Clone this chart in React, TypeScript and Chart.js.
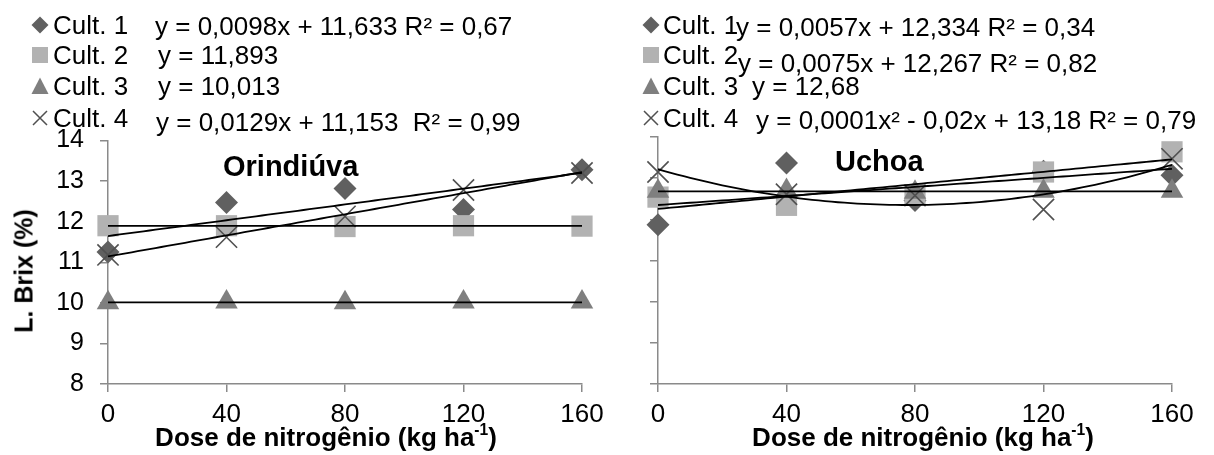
import React, { useEffect, useRef } from 'react';
import { Chart, registerables } from 'chart.js';

Chart.register(...registerables);

// ---------------- DATA ----------------
const doses = [0, 40, 80, 120, 160];
const cultivarLabels = ['Cult. 1', 'Cult. 2', 'Cult. 3', 'Cult. 4'];

const orindiuvaC1 = [11.25, 12.47, 12.82, 12.3, 13.28];
const orindiuvaC2 = [11.9, 11.9, 11.88, 11.9, 11.89];
const orindiuvaC3 = [10.0, 10.02, 10.0, 10.02, 10.02];
const orindiuvaC4 = [11.18, 11.62, 12.13, 12.78, 13.2];
const orindiuvaFitDegree = [1, 0, 0, 1];
const orindiuvaEquations = [
  'y = 0,0098x + 11,633 R² = 0,67',
  'y = 11,893',
  'y = 10,013',
  'y = 0,0129x + 11,153  R² = 0,99',
];

const uchoaC1 = [11.87, 13.37, 12.46, 13.17, 13.07];
const uchoaC2 = [12.54, 12.34, 12.6, 13.15, 13.64];
const uchoaC3 = [12.68, 12.7, 12.66, 12.68, 12.68];
const uchoaC4 = [13.15, 12.61, 12.58, 12.24, 13.47];
const uchoaFitDegree = [1, 1, 0, 2];
const uchoaEquations = [
  'y = 0,0057x + 12,334 R² = 0,34',
  'y = 0,0075x + 12,267 R² = 0,82',
  'y = 12,68',
  'y = 0,0001x² - 0,02x + 13,18 R² = 0,79',
];

const panelTitles = ['Orindiúva', 'Uchoa'];
const yAxisTitle = 'L. Brix (%)';
const xAxisTitleMain = 'Dose de nitrogênio (kg ha';
const xAxisTitleSup = '-1';
const yMin = 8;
const yMax = 14;
const yStep = 1;
const xMin = 0;
const xMax = 160;
const xStep = 40;

// ---------------- STYLE ----------------
const FONT = "'Liberation Sans', Arial, sans-serif";
const AXIS_COLOR = '#8a8a8a';
const markerStyles = ['rectRot', 'rect', 'triangle', 'crossRot'];
const markerRadius = [11.5, 15, 13, 15];
const markerColors = ['#606060', '#b2b2b2', '#7f7f7f', '#505050'];

function polyfit(xs: number[], ys: number[], deg: number): number[] {
  const n = deg + 1;
  const A: number[][] = [];
  for (let r = 0; r < n; r++) {
    const row: number[] = [];
    for (let c = 0; c < n; c++) row.push(xs.reduce((s, x) => s + Math.pow(x, r + c), 0));
    row.push(xs.reduce((s, x, i) => s + ys[i] * Math.pow(x, r), 0));
    A.push(row);
  }
  for (let i = 0; i < n; i++) {
    let p = i;
    for (let k = i + 1; k < n; k++) if (Math.abs(A[k][i]) > Math.abs(A[p][i])) p = k;
    [A[i], A[p]] = [A[p], A[i]];
    for (let k = i + 1; k < n; k++) {
      const f = A[k][i] / A[i][i];
      for (let c = i; c <= n; c++) A[k][c] -= f * A[i][c];
    }
  }
  const coef = new Array(n).fill(0);
  for (let i = n - 1; i >= 0; i--) {
    let s = A[i][n];
    for (let c = i + 1; c < n; c++) s -= A[i][c] * coef[c];
    coef[i] = s / A[i][i];
  }
  return coef;
}

function trendPoints(xs: number[], ys: number[], deg: number) {
  const coef = polyfit(xs, ys, deg);
  const pts: { x: number; y: number }[] = [];
  const lo = Math.min(...xs);
  const hi = Math.max(...xs);
  for (let x = lo; x <= hi + 1e-9; x += 2) {
    let y = 0;
    coef.forEach((c, i) => (y += c * Math.pow(x, i)));
    pts.push({ x, y });
  }
  return pts;
}

type PanelProps = {
  series: number[][];
  degrees: number[];
  canvasLeft: number;
  canvasWidth: number;
  plotTop: number;
  plotBottom: number;
  yWidth: number;
  plotRight: number;
  showYLabels: boolean;
};

const CANVAS_H = 455;

function Panel(props: PanelProps) {
  const ref = useRef<HTMLCanvasElement | null>(null);
  useEffect(() => {
    if (!ref.current) return;
    const datasets: any[] = [];
    props.series.forEach((ys, i) => {
      datasets.push({
        label: 'trend ' + cultivarLabels[i],
        data: trendPoints(doses, ys, props.degrees[i]),
        showLine: true,
        borderColor: '#000000',
        borderWidth: 1.8,
        pointRadius: 0,
        fill: false,
        tension: 0,
        order: 0,
      });
    });
    props.series.forEach((ys, i) => {
      const isCross = markerStyles[i] === 'crossRot';
      datasets.push({
        label: cultivarLabels[i],
        data: doses.map((x, j) => ({ x, y: ys[j] })),
        showLine: false,
        pointStyle: markerStyles[i],
        pointRadius: markerRadius[i],
        backgroundColor: markerColors[i],
        borderColor: markerColors[i],
        borderWidth: isCross ? 1.6 : 0,
        clip: false,
        order: 4 - i,
      });
    });
    const chart = new Chart(ref.current, {
      type: 'scatter',
      data: { datasets },
      options: {
        animation: false,
        responsive: false,
        events: [],
        layout: {
          padding: {
            left: 0,
            top: props.plotTop,
            right: props.canvasWidth - (props.plotRight - props.canvasLeft),
            bottom: 0,
          },
        },
        plugins: {
          legend: { display: false },
          tooltip: { enabled: false },
          title: { display: false },
        },
        scales: {
          x: {
            type: 'linear',
            min: xMin,
            max: xMax,
            ticks: {
              stepSize: xStep,
              color: '#000',
              font: { family: FONT, size: 26 },
              padding: 7,
              maxRotation: 0,
              autoSkip: false,
            },
            grid: { drawOnChartArea: false, tickLength: 8, color: AXIS_COLOR, lineWidth: 1.5 },
            border: { color: AXIS_COLOR, width: 1.5 },
            afterFit: (s: any) => {
              s.height = CANVAS_H - props.plotBottom;
            },
          },
          y: {
            type: 'linear',
            min: yMin,
            max: yMax,
            ticks: {
              stepSize: yStep,
              color: '#000',
              font: { family: FONT, size: 25 },
              padding: 16,
              callback: (v: any) => (props.showYLabels ? String(v) : ''),
            },
            grid: { drawOnChartArea: false, tickLength: 8, color: AXIS_COLOR, lineWidth: 1.5 },
            border: { color: AXIS_COLOR, width: 1.5 },
            afterFit: (s: any) => {
              s.width = props.yWidth;
            },
          },
        },
      } as any,
    });
    return () => chart.destroy();
  }, []);
  return (
    <canvas
      ref={ref}
      width={props.canvasWidth}
      height={CANVAS_H}
      style={{ position: 'absolute', left: props.canvasLeft, top: 0, width: props.canvasWidth, height: CANVAS_H }}
    />
  );
}

function MarkerIcon({ kind, cx, cy }: { kind: number; cx: number; cy: number }) {
  const s = 18;
  return (
    <svg style={{ position: 'absolute', left: cx - s / 2, top: cy - s / 2 }} width={s} height={s}>
      {kind === 0 && <polygon points="9,0.5 17.5,9 9,17.5 0.5,9" fill={markerColors[0]} />}
      {kind === 1 && <rect x="1" y="1" width="16" height="16" fill={markerColors[1]} />}
      {kind === 2 && <polygon points="9,0.5 17.5,17 0.5,17" fill={markerColors[2]} />}
      {kind === 3 && <path d="M2,2 L16,16 M16,2 L2,16" stroke={markerColors[3]} strokeWidth="1.5" fill="none" />}
    </svg>
  );
}

function Txt({ x, y, size, bold, children, anchor }: any) {
  return (
    <div
      style={{
        position: 'absolute',
        left: x,
        top: y,
        transform: anchor === 'center' ? 'translate(-50%, -50%)' : 'translateY(-50%)',
        fontFamily: FONT,
        fontSize: size,
        fontWeight: bold ? 'bold' : 'normal',
        lineHeight: 1,
        whiteSpace: 'pre',
        color: '#000',
      }}
    >
      {children}
    </div>
  );
}

function Legend({ markerX, labelX, rowY, eqX, eqY, equations }: any) {
  return (
    <>
      {cultivarLabels.map((lab, i) => (
        <React.Fragment key={i}>
          <MarkerIcon kind={i} cx={markerX} cy={rowY[i]} />
          <Txt x={labelX} y={rowY[i]} size={26}>
            {lab}
          </Txt>
          <Txt x={eqX[i]} y={eqY[i]} size={26}>
            {equations[i]}
          </Txt>
        </React.Fragment>
      ))}
    </>
  );
}

function XTitle({ cx }: { cx: number }) {
  return (
    <Txt x={cx} y={437} size={26} bold anchor="center">
      {xAxisTitleMain}
      <sup style={{ fontSize: '0.6em', verticalAlign: '0.7em', lineHeight: 0 }}>{xAxisTitleSup}</sup>)
    </Txt>
  );
}

export default function App() {
  return (
    <div style={{ position: 'fixed', left: 0, top: 0, width: 1214, height: 455, background: '#fff', overflow: 'hidden' }}>
      <Panel
        series={[orindiuvaC1, orindiuvaC2, orindiuvaC3, orindiuvaC4]}
        degrees={orindiuvaFitDegree}
        canvasLeft={0}
        canvasWidth={620}
        plotTop={140.5}
        plotBottom={384}
        yWidth={108}
        plotRight={582}
        showYLabels={true}
      />
      <Panel
        series={[uchoaC1, uchoaC2, uchoaC3, uchoaC4]}
        degrees={uchoaFitDegree}
        canvasLeft={620}
        canvasWidth={594}
        plotTop={137}
        plotBottom={384}
        yWidth={38}
        plotRight={1172}
        showYLabels={false}
      />
      <Legend
        markerX={40}
        labelX={53}
        rowY={[25, 55, 86, 118]}
        eqX={[155, 158, 158, 156]}
        eqY={[26, 55, 86, 122]}
        equations={orindiuvaEquations}
      />
      <Legend
        markerX={651}
        labelX={663}
        rowY={[25, 55, 86, 118]}
        eqX={[736, 738, 752, 756]}
        eqY={[27, 63, 86, 120]}
        equations={uchoaEquations}
      />
      <Txt x={223} y={166} size={29} bold>
        {panelTitles[0]}
      </Txt>
      <Txt x={835} y={161} size={29} bold>
        {panelTitles[1]}
      </Txt>
      <div
        style={{
          position: 'absolute',
          left: 24,
          top: 271,
          transform: 'translate(-50%, -50%) rotate(-90deg)',
          fontFamily: FONT,
          fontSize: 25,
          fontWeight: 'bold',
          lineHeight: 1,
          whiteSpace: 'pre',
        }}
      >
        {yAxisTitle}
      </div>
      <XTitle cx={326} />
      <XTitle cx={923} />
    </div>
  );
}
